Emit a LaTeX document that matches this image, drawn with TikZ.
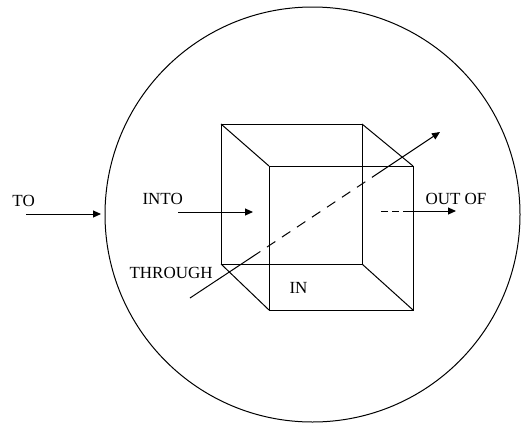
\documentclass[tikz,border=0pt]{standalone}
\usepackage{fontspec}
\setmainfont{Liberation Serif}
\usetikzlibrary{arrows.meta}
\begin{document}
\begin{tikzpicture}[x=1pt,y=-1pt,line width=1pt,
  lbl/.style={anchor=base west,inner sep=0pt,font=\fontsize{17}{17}\selectfont},
  arr/.style={-{Triangle[length=8pt,width=7pt]}},
  hid/.style={dash pattern=on 10pt off 8pt}]
\useasboundingbox (0,0) rectangle (521,423);
\node[draw,circle,minimum size=415pt,inner sep=0pt] (world) at (312.5,214.5) {};
% cube
\coordinate (b1) at (221,124); \coordinate (b2) at (362,124);
\coordinate (b3) at (362,264); \coordinate (b4) at (221,264);
\coordinate (f1) at (269,166); \coordinate (f2) at (413,166);
\coordinate (f3) at (413,310); \coordinate (f4) at (269,310);
\draw (b1) -- (b2) -- (b3) -- (b4) -- cycle;
\draw (f1) -- (f2) -- (f3) -- (f4) -- cycle;
\draw (b1) -- (f1) (b2) -- (f2) (b3) -- (f3) (b4) -- (f4);
% labels
\node[lbl] (to) at (12,206) {TO};
\node[lbl] (into) at (142,204) {INTO};
\node[lbl] (through) at (129,278) {THROUGH};
\node[lbl] (outof) at (425,204) {OUT OF};
\node[lbl] (in) at (289,293) {IN};
% TO
\coordinate (toS) at (26,214); \coordinate (toE) at (101,214);
\draw[arr] (toS) -- (toE);
% INTO
\coordinate (intoS) at (178,212); \coordinate (intoE) at (253,212);
\draw[arr] (intoS) -- (intoE);
% THROUGH
\coordinate (thS) at (190,298); \coordinate (thA) at (252,257);
\coordinate (thB) at (380,172); \coordinate (thE) at (440,132);
\draw (thS) -- (thA);
\draw[hid] (thA) -- (thB);
\draw[arr] (thB) -- (thE);
% OUT OF
\coordinate (outS) at (381,211); \coordinate (outM) at (406,211);
\coordinate (outE) at (456,211);
\draw[dash pattern=on 7pt off 4pt] (outS) -- (outM);
\draw[arr] (outM) -- (outE);
\end{tikzpicture}
\end{document}
